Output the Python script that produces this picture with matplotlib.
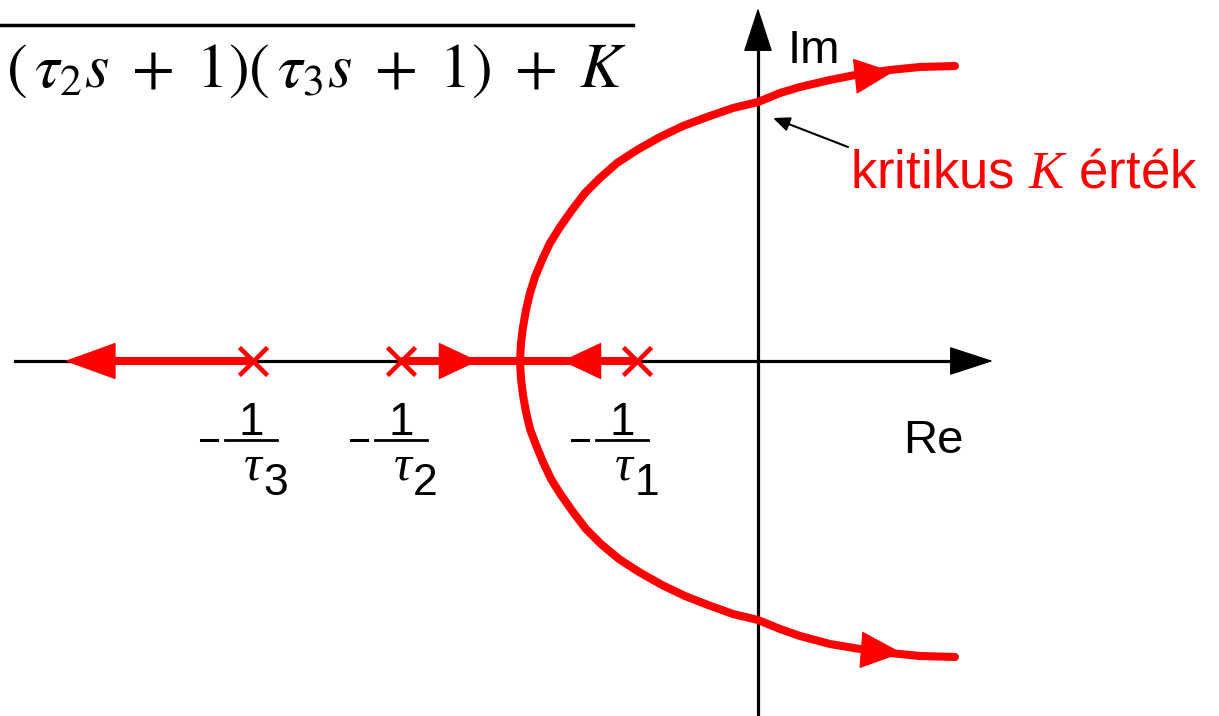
import matplotlib.pyplot as plt

plt.rcParams['font.family'] = ['Liberation Sans', 'DejaVu Sans']
plt.rcParams['mathtext.fontset'] = 'custom'
plt.rcParams['mathtext.rm'] = 'Liberation Sans'
plt.rcParams['mathtext.it'] = 'Liberation Serif:italic'
plt.rcParams['mathtext.bf'] = 'Liberation Sans:bold'

RED = '#ff0000'

# poles on the real axis: -1/tau3, -1/tau2, -1/tau1
pole_re = [-5.05, -3.57, -1.21]
pole_idx = ['3', '2', '1']
label_dx = [-0.02, 0.0, -0.145]

# complex branches
upper_re = [-2.38, -2.37, -2.35, -2.32, -2.28, -2.23, -2.16, -2.08, -1.98, -1.86,
            -1.73, -1.58, -1.41, -1.21, -0.98, -0.75, -0.51, -0.25, 0.00, 0.22,
            0.42, 0.72, 1.02, 1.32, 1.62, 1.97]
upper_im = [0.00, 0.18, 0.34, 0.51, 0.68, 0.84, 1.01, 1.18, 1.34, 1.51,
            1.68, 1.83, 1.98, 2.11, 2.24, 2.35, 2.44, 2.53, 2.59, 2.68,
            2.74, 2.81, 2.87, 2.91, 2.94, 2.95]
lower_re = [-2.38, -2.37, -2.35, -2.32, -2.28, -2.22, -2.15, -2.07, -1.97, -1.85,
            -1.72, -1.57, -1.39, -1.19, -0.96, -0.73, -0.50, -0.25, 0.00, 0.22,
            0.42, 0.72, 1.02, 1.32, 1.62, 1.97]
lower_im = [0.00, -0.18, -0.34, -0.51, -0.68, -0.84, -1.01, -1.18, -1.34, -1.51,
            -1.68, -1.83, -1.98, -2.11, -2.24, -2.35, -2.44, -2.53, -2.59, -2.68,
            -2.75, -2.83, -2.88, -2.92, -2.95, -2.96]

fig = plt.figure(figsize=(12.19, 7.16), dpi=100)
ax = fig.add_axes([0, 0, 1, 1])
ax.set_xlim(-7.58, 4.61)
ax.set_ylim(-3.55, 3.61)
ax.axis('off')


def arrow(tail, tip, color, hl, hw, lw):
    ax.annotate('', xy=tip, xytext=tail,
                arrowprops=dict(arrowstyle=f'-|>,head_length={hl},head_width={hw}',
                                color=color, lw=lw, shrinkA=0, shrinkB=0,
                                mutation_scale=1))


# axes
ax.plot([-7.43, 2.0], [0, 0], color='black', lw=2.3, zorder=1)
arrow((1.95, 0), (2.35, 0), 'black', 28.8, 9.4, 1)
ax.plot([0, 0], [-3.6, 3.2], color='black', lw=2.3, zorder=1)
arrow((0, 3.13), (0, 3.53), 'black', 28.8, 9.4, 1)
ax.text(0.30, 2.98, 'Im', fontsize=34, ha='left', va='baseline')
ax.text(1.45, -0.92, 'Re', fontsize=34, ha='left', va='baseline')

# real-axis segments of the locus
LW = 5.8
ax.plot([pole_re[0], -6.45], [0, 0], color=RED, lw=LW, solid_capstyle='butt', zorder=3)
arrow((-6.45, 0), (-6.93, 0), RED, 34.5, 12.5, 1)
ax.plot([pole_re[1], pole_re[2]], [0, 0], color=RED, lw=LW, solid_capstyle='butt', zorder=3)
arrow((-3.17, 0), (-2.80, 0), RED, 26.6, 12.5, 1)
arrow((-1.59, 0), (-1.96, 0), RED, 26.6, 12.5, 1)

# complex branches
ax.plot(upper_re, upper_im, color=RED, lw=LW, solid_capstyle='round',
        solid_joinstyle='round', zorder=3)
ax.plot(lower_re, lower_im, color=RED, lw=LW, solid_capstyle='round',
        solid_joinstyle='round', zorder=3)
arrow((0.99, 2.85), (1.35, 2.89), RED, 26, 12, 1)
arrow((1.05, -2.89), (1.44, -2.92), RED, 28, 12.5, 1)

# poles
ax.plot(pole_re, [0, 0, 0], linestyle='none', marker='x', markersize=19.5,
        markeredgewidth=3.3, color=RED, zorder=4)

# pole labels  -1/tau_i
for p, idx, dx in zip(pole_re, pole_idx, label_dx):
    c = p + dx
    ax.plot([c - 0.50, c - 0.34], [-0.79, -0.79], color='black', lw=2.2)
    ax.plot([c - 0.26, c + 0.26], [-0.79, -0.79], color='black', lw=2.0)
    ax.text(c, -0.74, '1', fontsize=33, ha='center', va='baseline')
    ax.text(c - 0.08, -1.19, r'$\tau$', fontsize=36, ha='left', va='baseline')
    ax.text(c + 0.12, -1.34, idx, fontsize=32, ha='left', va='baseline')

# critical gain annotation
ax.annotate('', xy=(0.15, 2.43), xytext=(0.90, 2.14),
            arrowprops=dict(arrowstyle='-|>,head_length=10,head_width=4.3',
                            color='black', lw=1.5, shrinkA=0, shrinkB=0,
                            mutation_scale=1))
ax.text(0.92, 1.73, r'kritikus $K$ érték', fontsize=38, color=RED,
        ha='left', va='baseline')

# cropped transfer-function denominator
ax.plot([-7.58, -1.25], [3.36, 3.36], color='black', lw=2.5)
ax.text(-7.52, 2.74,
        r'$(\,\tau_2 s\hspace{0.3}+\hspace{0.3}1)(\,\tau_3 s\hspace{0.3}+\hspace{0.3}1)'
        r'\hspace{0.3}+\hspace{0.3}K$',
        fontsize=45, math_fontfamily='stix', ha='left', va='baseline')

fig.savefig('out.png', dpi=100)
